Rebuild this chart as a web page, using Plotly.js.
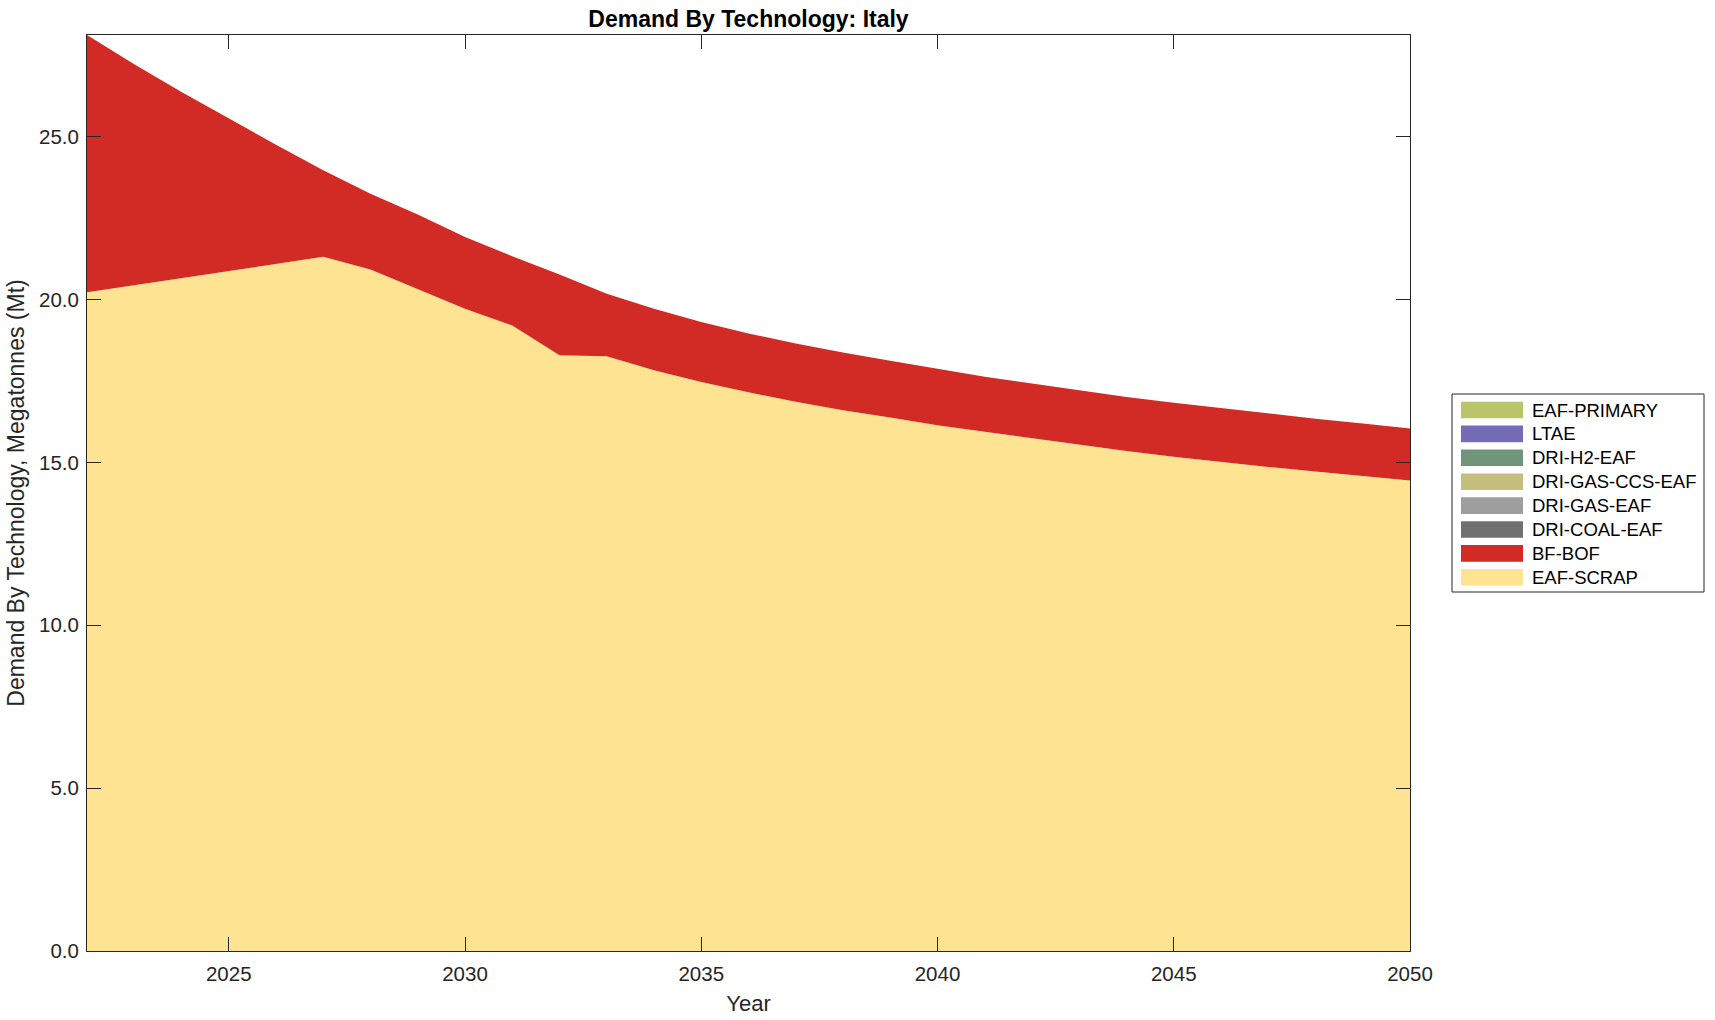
<!DOCTYPE html>
<html>
<head>
<meta charset="utf-8">
<script src="https://cdn.plot.ly/plotly-3.0.1.min.js"></script>
<style>
html,body{margin:0;padding:0;background:#fff;}
#chart{width:1715px;height:1020px;}
</style>
</head>
<body>
<div id="chart"></div>
<script>
// ---- data (Mt) ----
const years = [2022,2023,2024,2025,2026,2027,2028,2029,2030,2031,2032,2033,2034,2035,2036,2037,2038,2039,2040,2041,2042,2043,2044,2045,2046,2047,2048,2049,2050];
const eafScrap = [20.22,20.44,20.66,20.87,21.09,21.31,20.92,20.32,19.72,19.20,18.29,18.26,17.83,17.47,17.15,16.86,16.60,16.38,16.14,15.94,15.74,15.54,15.35,15.17,15.01,14.86,14.72,14.58,14.44];
const bfBof = [7.90,6.78,5.71,4.68,3.66,2.66,2.33,2.29,2.20,2.13,2.48,1.92,1.89,1.84,1.81,1.79,1.77,1.74,1.73,1.69,1.68,1.67,1.66,1.66,1.65,1.64,1.62,1.61,1.60];
const driCoalEaf = years.map(() => 0);
const driGasEaf = years.map(() => 0);
const driGasCcsEaf = years.map(() => 0);
const driH2Eaf = years.map(() => 0);
const ltae = years.map(() => 0);
const eafPrimary = years.map(() => 0);

const techNames = ['EAF-SCRAP','BF-BOF','DRI-COAL-EAF','DRI-GAS-EAF','DRI-GAS-CCS-EAF','DRI-H2-EAF','LTAE','EAF-PRIMARY'];
const techValues = [eafScrap, bfBof, driCoalEaf, driGasEaf, driGasCcsEaf, driH2Eaf, ltae, eafPrimary];
const techColors = ['#fee492','#d22a24','#707070','#9e9e9e','#c6be7d','#70957a','#756bb6','#bac56b'];

const yTicks = [0,5,10,15,20,25];
const xTicks = [2025,2030,2035,2040,2045,2050];

// ---- traces ----
const traces = techNames.map((name, i) => ({
  type: 'scatter',
  mode: 'lines',
  name: name,
  x: years,
  y: techValues[i],
  stackgroup: 'one',
  line: {width: 0, color: techColors[i]},
  fillcolor: techColors[i],
  showlegend: false,
  hoverinfo: 'x+y+name'
}));

// ---- layout geometry ----
const W = 1715, H = 1020;
const mL = 87, mR = 305, mT = 35, mB = 69;
const pw = W - mL - mR, ph = H - mT - mB;
const px2x = p => (p - mL) / pw;
const py2y = p => (H - mB - p) / ph;

const FONT = 'Liberation Sans, Arial, Helvetica, sans-serif';
const shapes = [];
const annotations = [];
// legend box
shapes.push({type:'rect', xref:'paper', yref:'paper',
  x0: px2x(1452), x1: px2x(1704), y0: py2y(592), y1: py2y(394),
  line:{color:'#262626', width:1}, fillcolor:'#ffffff'});
const legendOrder = techNames.slice().reverse();
const legendColors = techColors.slice().reverse();
legendOrder.forEach((name, k) => {
  const cy = 410 + k * 23.9;
  shapes.push({type:'rect', xref:'paper', yref:'paper',
    x0: px2x(1461), x1: px2x(1523), y0: py2y(cy + 8.3), y1: py2y(cy - 8.3),
    line:{width:0}, fillcolor: legendColors[k]});
  annotations.push({xref:'paper', yref:'paper', x: px2x(1530), y: py2y(cy),
    xanchor:'left', yanchor:'middle', showarrow:false, text: name,
    font:{family: FONT, size:18.5, color:'#000000'}});
});

const layout = {
  width: W, height: H,
  margin: {l: mL, r: mR, t: mT, b: mB, pad: 0},
  paper_bgcolor: '#ffffff',
  plot_bgcolor: '#ffffff',
  font: {family: FONT, size: 20, color: '#262626'},
  title: {
    text: '<b>Demand By Technology: Italy</b>',
    font: {family: FONT, size: 23, color: '#000000'},
    x: 0.5, xref: 'paper', xanchor: 'center',
    y: 1 - 18.6 / H, yref: 'container', yanchor: 'middle'
  },
  xaxis: {
    range: [2022, 2050],
    tickvals: xTicks,
    ticktext: xTicks.map(String),
    ticks: 'inside', ticklen: 14, tickwidth: 1, tickcolor: '#262626',
    showline: true, linecolor: '#262626', linewidth: 1, mirror: 'ticks',
    showgrid: false, zeroline: false,
    ticklabelstandoff: 4,
    tickfont: {size: 20.5, color: '#262626'},
    title: {text: 'Year', font: {size: 22, color: '#262626'}, standoff: 12}
  },
  yaxis: {
    range: [0, 28.12],
    tickvals: yTicks,
    ticktext: yTicks.map(v => v.toFixed(1)),
    ticks: 'inside', ticklen: 14, tickwidth: 1, tickcolor: '#262626',
    showline: true, linecolor: '#262626', linewidth: 1, mirror: 'ticks',
    showgrid: false, zeroline: false,
    ticklabelstandoff: 3,
    tickfont: {size: 20.5, color: '#262626'},
    title: {text: 'Demand By Technology, Megatonnes (Mt)', font: {size: 23, color: '#262626'}, standoff: 7}
  },
  shapes: shapes,
  annotations: annotations,
  showlegend: false
};

Plotly.newPlot('chart', traces, layout, {displayModeBar: false, staticPlot: true});
</script>
</body>
</html>
